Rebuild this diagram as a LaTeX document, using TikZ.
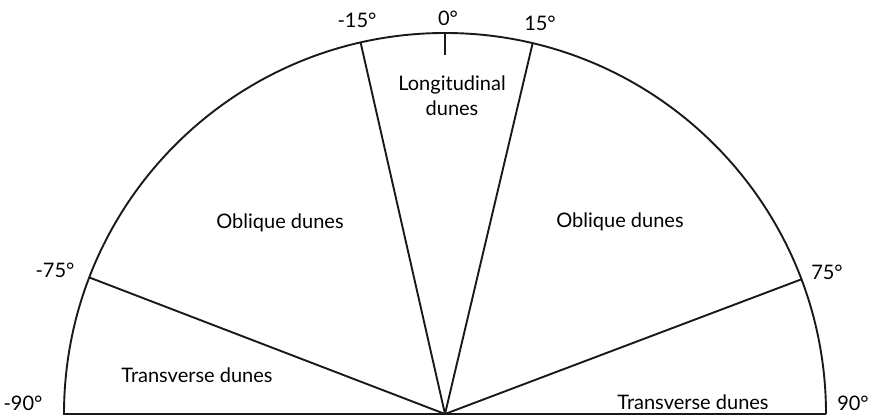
\documentclass[tikz,border=0pt]{standalone}
\usepackage{fontspec}
\setmainfont{Lato}
\usetikzlibrary{calc}
\begin{document}
\begin{tikzpicture}[x=1pt,y=1pt,
  lbl/.style={font=\fontsize{20}{25}\selectfont, inner sep=0pt, text=black, align=center},
  ln/.style={line width=1.9pt, draw=black!90}]
\useasboundingbox (0,0) rectangle (869,419);
\coordinate (c) at (445,5);
\coordinate (L) at ($(c)+(180:381)$);
\coordinate (R) at ($(c)+(0:381)$);
\coordinate (a75l) at ($(c)+(159:381)$);
\coordinate (a15l) at ($(c)+(102.8:381)$);
\coordinate (a15r) at ($(c)+(76.7:381)$);
\coordinate (a75r) at ($(c)+(20.7:381)$);
\coordinate (top) at ($(c)+(90:381)$);
\coordinate (tickend) at ($(c)+(90:359)$);
% outline
\draw[ln] (R) arc[start angle=0, end angle=180, radius=381] -- (R);
% dividing lines
\draw[ln] (c) -- (a75l);
\draw[ln] (c) -- (a15l);
\draw[ln] (c) -- (a15r);
\draw[ln] (c) -- (a75r);
\draw[ln] (top) -- (tickend);
% angle labels
\node[lbl] (m15) at (357,399) {-15°};
\node[lbl] (z0) at (448,401) {0°};
\node[lbl] (p15) at (540,396) {15°};
\node[lbl] (m75) at (55,149) {-75°};
\node[lbl] (p75) at (827,147) {75°};
\node[lbl] (m90) at (23,16) {-90°};
\node[lbl] (p90) at (853,16) {90°};
% region labels
\node[lbl] (lon) at (452,323) {Longitudinal\\dunes};
\node[lbl] (obl) at (280,196) {Oblique dunes};
\node[lbl] (obr) at (620,197) {Oblique dunes};
\node[lbl] (trl) at (197,44) {Transverse dunes};
\node[lbl] (trr) at (693,17) {Transverse dunes};
\end{tikzpicture}
\end{document}
